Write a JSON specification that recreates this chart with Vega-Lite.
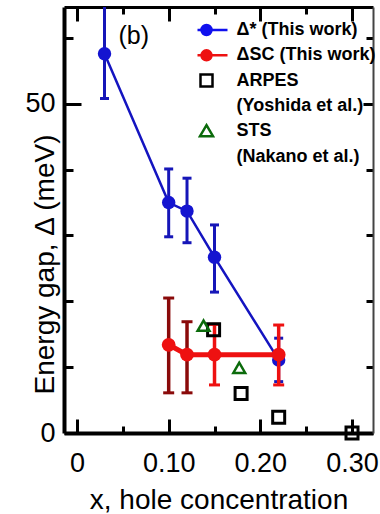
{
  "$schema": "https://vega.github.io/schema/vega-lite/v6.json",
  "width": 309,
  "height": 426,
  "autosize": "none",
  "padding": {"left": 64, "top": 7, "right": 7, "bottom": 81},
  "background": "white",
  "config": {"view": {"stroke": null}, "font": "Liberation Sans"},
  "datasets": {
    "pseudo": [
      {"x": 0.03, "gap": 57.6, "lo": 50.8, "hi": 66},
      {"x": 0.10, "gap": 35.0, "lo": 29.8, "hi": 40.1},
      {"x": 0.12, "gap": 33.7, "lo": 28.9, "hi": 38.7},
      {"x": 0.15, "gap": 26.7, "lo": 21.4, "hi": 31.6},
      {"x": 0.22, "gap": 11.1, "lo": 7.8, "hi": 14.4}
    ],
    "sc": [
      {"x": 0.10, "gap": 13.4, "lo": 6.1, "hi": 20.5},
      {"x": 0.12, "gap": 11.9, "lo": 6.1, "hi": 16.9},
      {"x": 0.15, "gap": 11.9, "lo": 7.3, "hi": 16.5},
      {"x": 0.22, "gap": 11.9, "lo": 7.3, "hi": 16.4}
    ],
    "arpes": [
      {"x": 0.149, "gap": 15.7},
      {"x": 0.179, "gap": 6.0},
      {"x": 0.22, "gap": 2.4},
      {"x": 0.30, "gap": 0}
    ],
    "sts": [
      {"x": 0.138, "gap": 16.3},
      {"x": 0.177, "gap": 9.9}
    ]
  },
  "layer": [
    {
      "layer": [
        {
          "data": {"name": "pseudo"},
          "mark": {"type": "rule", "color": "#1616b8", "strokeWidth": 3, "clip": true},
          "encoding": {
            "x": {"field": "x", "type": "quantitative",
              "scale": {"domain": [-0.0142, 0.3229], "nice": false, "zero": false},
              "axis": {
                "orient": "bottom", "values": [0, 0.05, 0.1, 0.15, 0.2, 0.25, 0.3], "grid": false,
                "tickSize": {"condition": {"test": "round(datum.value*100) % 10 === 0", "value": -14}, "value": -7},
                "tickWidth": 3, "tickColor": "black", "domainWidth": 4, "domainColor": "black",
                "labelExpr": "round(datum.value*100) % 10 === 0 ? (datum.value === 0 ? '0' : format(datum.value, '.2f')) : ''",
                "labelFontSize": 27, "labelPadding": 31, "labelColor": "black", "labelFlush": false, "labelOverlap": false, "labelFont": "Liberation Sans",
                "title": "x, hole concentration", "titleFontSize": 28, "titleFontWeight": "normal", "titleFont": "Liberation Sans", "titleColor": "black", "titleY": 75, "titleBaseline": "alphabetic"
              }
            },
            "y": {"field": "lo", "type": "quantitative",
              "scale": {"domain": [0, 64.7], "nice": false, "zero": false},
              "axis": {
                "orient": "left", "values": [0, 10, 20, 30, 40, 50, 60], "grid": false,
                "tickSize": {"condition": {"test": "datum.value % 50 === 0", "value": -17}, "value": -9},
                "tickWidth": 3, "tickColor": "black", "domainWidth": 4, "domainColor": "black",
                "labelExpr": "datum.value % 50 === 0 ? datum.label : ''",
                "labelFontSize": 27, "labelPadding": 26, "labelColor": "black", "labelFlush": false, "labelOverlap": false, "labelFont": "Liberation Sans",
                "title": "Energy gap, Δ (meV)", "titleFontSize": 28, "titleFontWeight": "normal", "titleFont": "Liberation Sans", "titleColor": "black",
                "titleAngle": 270, "titleX": -11, "titleY": 257, "titleBaseline": "alphabetic", "titleAlign": "center"
              }
            },
            "y2": {"field": "hi"}
          }
        },
        {
          "data": {"name": "pseudo"},
          "mark": {"type": "tick", "orient": "horizontal", "size": 9, "thickness": 3, "color": "#1616b8", "opacity": 1, "clip": true},
          "encoding": {"x": {"field": "x", "type": "quantitative"}, "y": {"field": "lo", "type": "quantitative"}}
        },
        {
          "data": {"name": "pseudo"},
          "mark": {"type": "tick", "orient": "horizontal", "size": 9, "thickness": 3, "color": "#1616b8", "opacity": 1, "clip": true},
          "encoding": {"x": {"field": "x", "type": "quantitative"}, "y": {"field": "hi", "type": "quantitative"}}
        },
        {
          "data": {"name": "pseudo"},
          "mark": {"type": "line", "color": "#1414c0", "strokeWidth": 2.5},
          "encoding": {"x": {"field": "x", "type": "quantitative"}, "y": {"field": "gap", "type": "quantitative"}}
        },
        {
          "data": {"name": "pseudo"},
          "mark": {"type": "circle", "color": "#1414d0", "size": 180, "opacity": 1},
          "encoding": {"x": {"field": "x", "type": "quantitative"}, "y": {"field": "gap", "type": "quantitative"}}
        },
        {
          "data": {"name": "sc"},
          "mark": {"type": "rule", "strokeWidth": 3.5},
          "encoding": {
            "x": {"field": "x", "type": "quantitative"},
            "y": {"field": "lo", "type": "quantitative"},
            "y2": {"field": "hi"},
            "color": {"condition": {"test": "datum.x < 0.14", "value": "#8a0a0a"}, "value": "#ee1111"}
          }
        },
        {
          "data": {"name": "sc"},
          "mark": {"type": "tick", "orient": "horizontal", "size": 11, "thickness": 3, "opacity": 1},
          "encoding": {
            "x": {"field": "x", "type": "quantitative"}, "y": {"field": "lo", "type": "quantitative"},
            "color": {"condition": {"test": "datum.x < 0.14", "value": "#8a0a0a"}, "value": "#ee1111"}
          }
        },
        {
          "data": {"name": "sc"},
          "mark": {"type": "tick", "orient": "horizontal", "size": 11, "thickness": 3, "opacity": 1},
          "encoding": {
            "x": {"field": "x", "type": "quantitative"}, "y": {"field": "hi", "type": "quantitative"},
            "color": {"condition": {"test": "datum.x < 0.14", "value": "#8a0a0a"}, "value": "#ee1111"}
          }
        },
        {
          "data": {"name": "sc"},
          "mark": {"type": "line", "color": "#ee1111", "strokeWidth": 5},
          "encoding": {"x": {"field": "x", "type": "quantitative"}, "y": {"field": "gap", "type": "quantitative"}}
        },
        {
          "data": {"name": "sc"},
          "mark": {"type": "circle", "color": "#ee1111", "size": 190, "opacity": 1},
          "encoding": {"x": {"field": "x", "type": "quantitative"}, "y": {"field": "gap", "type": "quantitative"}}
        },
        {
          "data": {"name": "arpes"},
          "mark": {"type": "point", "shape": "square", "filled": false, "color": "black", "strokeWidth": 3, "size": 144, "opacity": 1},
          "encoding": {"x": {"field": "x", "type": "quantitative"}, "y": {"field": "gap", "type": "quantitative"}}
        },
        {
          "data": {"name": "sts"},
          "mark": {"type": "point", "shape": "triangle-up", "filled": false, "color": "#0b6b0b", "strokeWidth": 2.5, "size": 140, "opacity": 1},
          "encoding": {"x": {"field": "x", "type": "quantitative"}, "y": {"field": "gap", "type": "quantitative"}}
        }
      ]
    },
    {
      "data": {"values": []},
      "mark": {"type": "point", "size": 100, "opacity": 1, "strokeWidth": 2.5},
      "encoding": {
        "x": {"field": "x", "type": "quantitative",
          "scale": {"domain": [-0.0142, 0.3229], "nice": false, "zero": false},
          "axis": {
            "orient": "top", "values": [0, 0.05, 0.1, 0.15, 0.2, 0.25, 0.3], "grid": false, "labels": false,
            "title": "(b)", "titleX": 54, "titleY": 36, "titleAlign": "left", "titleBaseline": "alphabetic", "titleAngle": 0,
            "titleFontSize": 25, "titleFontWeight": "normal", "titleFont": "Liberation Sans", "titleColor": "black",
            "tickSize": {"condition": {"test": "round(datum.value*100) % 10 === 0", "value": -14}, "value": -7},
            "tickWidth": 3, "tickColor": "black", "domainWidth": 3, "domainColor": "black"
          }
        },
        "y": {"field": "gap", "type": "quantitative",
          "scale": {"domain": [0, 64.7], "nice": false, "zero": false},
          "axis": {
            "orient": "right", "values": [0, 10, 20, 30, 40, 50, 60], "grid": false, "labels": false, "title": null,
            "tickSize": {"condition": {"test": "datum.value % 50 === 0", "value": -10}, "value": -7},
            "tickWidth": 3, "tickColor": "black", "domainWidth": 2, "domainColor": "#444444"
          }
        },
        "stroke": {"field": "series", "type": "nominal",
          "scale": {"domain": ["Δ* (This work)", "ΔSC (This work)", "ARPES", "(Yoshida et al.)", "STS", "(Nakano et al.)"],
                    "range": ["#1010ee", "#ee1111", "black", "transparent", "#0b6b0b", "transparent"]},
          "legend": {
            "orient": "none", "legendX": 133.5, "legendY": 13, "title": null, "padding": 0,
            "symbolSize": 100, "symbolStrokeWidth": 2.5, "symbolOpacity": 1, "clipHeight": 20, "rowPadding": 5.3,
            "labelFont": "Liberation Sans", "labelFontSize": 18, "labelFontWeight": "bold", "labelColor": "black", "labelLimit": 0, "labelOffset": 21
          }
        },
        "fill": {"field": "series", "type": "nominal",
          "scale": {"domain": ["Δ* (This work)", "ΔSC (This work)", "ARPES", "(Yoshida et al.)", "STS", "(Nakano et al.)"],
                    "range": ["#1010ee", "#ee1111", "transparent", "transparent", "transparent", "transparent"]}
        },
        "shape": {"field": "series", "type": "nominal",
          "scale": {"domain": ["Δ* (This work)", "ΔSC (This work)", "ARPES", "(Yoshida et al.)", "STS", "(Nakano et al.)"],
                    "range": ["M-2.8,0L4.2,0M-1,0A1,1,0,1,1,1,0A1,1,0,1,1,-1,0Z", "M-2.8,0L4.2,0M-1,0A1,1,0,1,1,1,0A1,1,0,1,1,-1,0Z", "M-1.2,-1.2L1.2,-1.2L1.2,1.2L-1.2,1.2Z", "M0,0", "M0,-1.2L1.3,1L-1.3,1Z", "M0,0"]}
        }
      }
    }
  ],
  "resolve": {"axis": {"x": "independent", "y": "independent"}}
}
